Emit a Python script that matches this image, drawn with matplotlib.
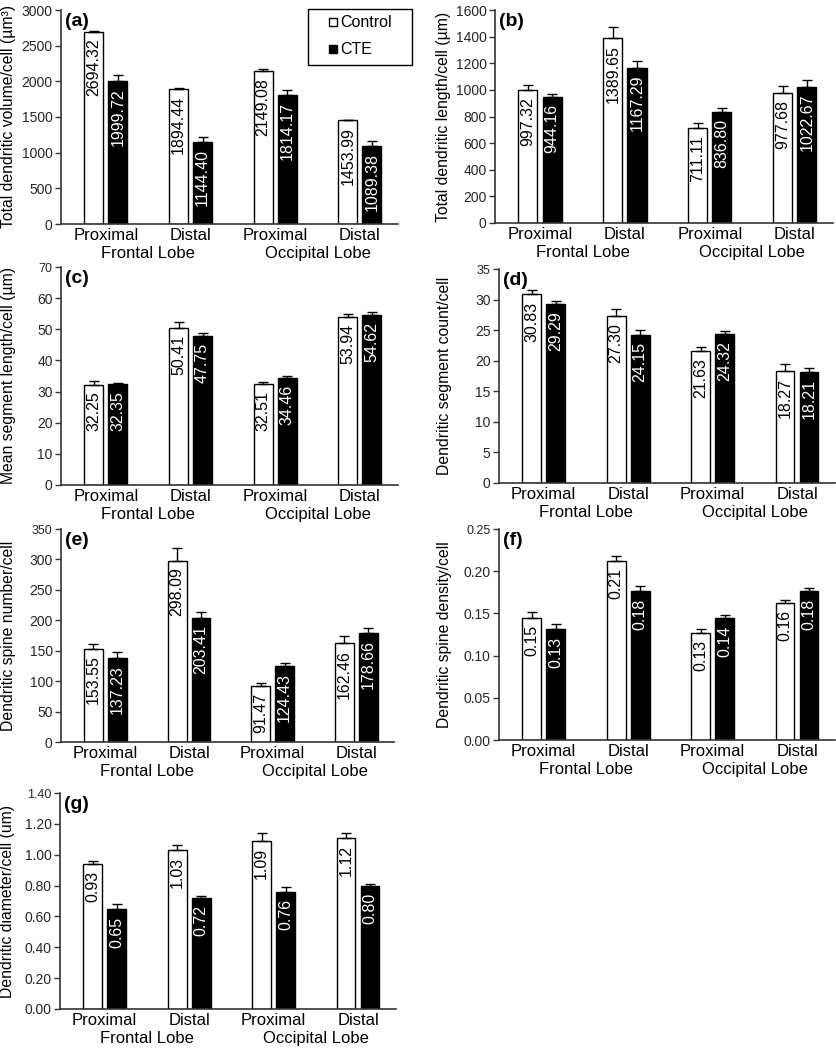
import matplotlib
matplotlib.use("Agg")
import matplotlib.pyplot as plt
from matplotlib.lines import Line2D
from matplotlib.patches import Rectangle
import numpy as np

plt.rcParams['font.family'] = ['Liberation Sans', 'DejaVu Sans']

W, H = 837, 1050

groups = ["Proximal", "Distal", "Proximal", "Distal"]
lobes = ["Frontal Lobe", "Occipital Lobe"]

# (a) total dendritic volume
vol_ctrl = [2694.32, 1894.44, 2149.08, 1453.99]
vol_cte = [1999.72, 1144.40, 1814.17, 1089.38]
vol_ctrl_err = [15, 10, 23, 10]
vol_cte_err = [93, 75, 70, 70]

# (b) total dendritic length
len_ctrl = [997.32, 1389.65, 711.11, 977.68]
len_cte = [944.16, 1167.29, 836.80, 1022.67]
len_ctrl_err = [38, 80, 38, 50]
len_cte_err = [22, 48, 25, 48]

# (c) mean segment length
seg_ctrl = [32.25, 50.41, 32.51, 53.94]
seg_cte = [32.35, 47.75, 34.46, 54.62]
seg_ctrl_err = [1.07, 1.8, 0.5, 1.07]
seg_cte_err = [0.5, 1.0, 0.5, 1.0]

# (d) segment count
cnt_ctrl = [30.83, 27.30, 21.63, 18.27]
cnt_cte = [29.29, 24.15, 24.32, 18.21]
cnt_ctrl_err = [0.76, 1.1, 0.55, 1.15]
cnt_cte_err = [0.55, 0.87, 0.5, 0.55]

# (e) spine number
spn_ctrl = [153.55, 298.09, 91.47, 162.46]
spn_cte = [137.23, 203.41, 124.43, 178.66]
spn_ctrl_err = [7.6, 20.7, 4.9, 10.9]
spn_cte_err = [10.3, 10.9, 4.9, 8.2]

# (f) spine density
den_ctrl = [0.145, 0.212, 0.127, 0.162]
den_cte = [0.131, 0.176, 0.144, 0.176]
den_ctrl_err = [0.0063, 0.0063, 0.004, 0.0036]
den_cte_err = [0.006, 0.006, 0.004, 0.0036]
den_ctrl_lab = ["0.15", "0.21", "0.13", "0.16"]
den_cte_lab = ["0.13", "0.18", "0.14", "0.18"]

# (g) diameter
dia_ctrl = [0.94, 1.03, 1.09, 1.11]
dia_cte = [0.645, 0.72, 0.76, 0.80]
dia_ctrl_err = [0.022, 0.035, 0.048, 0.033]
dia_cte_err = [0.035, 0.01, 0.033, 0.01]
dia_ctrl_lab = ["0.93", "1.03", "1.09", "1.12"]
dia_cte_lab = ["0.65", "0.72", "0.76", "0.80"]

fig = plt.figure(figsize=(W / 100, H / 100), dpi=100)

BW = 0.224
OFF = 0.142
AX_COL = '#333333'


def add_ax(l, t, r, b):
    return fig.add_axes([l / W, 1 - b / H, (r - l) / W, (b - t) / H])


def panel(box, tag, ylabel, ymax, ystep, ctrl, cte, ctrl_err, cte_err,
          fmt="{:.0f}", ctrl_lab=None, cte_lab=None, ylab_x=16, small_top=True):
    ax = add_ax(*box)
    x = np.arange(4)
    ax.bar(x - OFF, ctrl, BW, color='white', edgecolor='black', linewidth=1.0,
           yerr=[np.zeros(4), ctrl_err], capsize=3.5,
           error_kw=dict(elinewidth=1.0, capthick=1.0, ecolor='black'), zorder=2)
    ax.bar(x + OFF, cte, BW, color='black', edgecolor='black', linewidth=1.0,
           yerr=[np.zeros(4), cte_err], capsize=3.5,
           error_kw=dict(elinewidth=1.0, capthick=1.0, ecolor='black'), zorder=2)
    if ctrl_lab is None:
        ctrl_lab = ["{:.2f}".format(v) for v in ctrl]
    if cte_lab is None:
        cte_lab = ["{:.2f}".format(v) for v in cte]
    for i in range(4):
        ax.annotate(ctrl_lab[i], (x[i] - OFF, ctrl[i]), xytext=(0, -5),
                    textcoords='offset points', rotation=90, ha='center', va='top',
                    fontsize=11.5, color='black', zorder=3)
        ax.annotate(cte_lab[i], (x[i] + OFF, cte[i]), xytext=(0, -5),
                    textcoords='offset points', rotation=90, ha='center', va='top',
                    fontsize=11.5, color='white', zorder=3)
    ax.set_xlim(-0.53, 3.45)
    ax.set_ylim(0, ymax)
    ticks = np.arange(0, ymax + ystep / 2, ystep)
    ax.set_yticks(ticks)
    ax.set_yticklabels([fmt.format(t) for t in ticks], fontsize=10, color='#262626')
    if small_top:
        ax.get_yticklabels()[-1].set_fontsize(9)
    ax.set_xticks(x)
    ax.set_xticklabels(groups, fontsize=12)
    ax.tick_params(axis='x', length=0, pad=3)
    ax.tick_params(axis='y', length=4, width=1, color=AX_COL, pad=2)
    for s in ['top', 'right']:
        ax.spines[s].set_visible(False)
    for s in ['left', 'bottom']:
        ax.spines[s].set_color(AX_COL)
        ax.spines[s].set_linewidth(1.2)
    for j, lobe in enumerate(lobes):
        ax.annotate(lobe, (0.5 + 2 * j, 0), xycoords=('data', 'axes fraction'),
                    xytext=(0, -21.5), textcoords='offset points',
                    ha='center', va='center', fontsize=12)
    ax.text(0.012, 0.985, tag, transform=ax.transAxes, ha='left', va='top',
            fontsize=14, fontweight='bold')
    ax.set_ylabel(ylabel, fontsize=11.3)
    ax.yaxis.set_label_coords((ylab_x - box[0]) / (box[2] - box[0]), 0.5)
    return ax


panel((61, 10, 398, 224), "(a)", "Total dendritic volume/cell (µm³)", 3000, 500,
      vol_ctrl, vol_cte, vol_ctrl_err, vol_cte_err, small_top=False)
panel((495, 10, 833, 223), "(b)", "Total dendritic length/cell (µm)", 1600, 200,
      len_ctrl, len_cte, len_ctrl_err, len_cte_err, ylab_x=451, small_top=False)
panel((61, 267, 398, 485), "(c)", "Mean segment length/cell (µm)", 70, 10,
      seg_ctrl, seg_cte, seg_ctrl_err, seg_cte_err)
panel((499, 269, 835, 483), "(d)", "Dendritic segment count/cell", 35, 5,
      cnt_ctrl, cnt_cte, cnt_ctrl_err, cnt_cte_err, ylab_x=452)
panel((61, 529, 394, 742), "(e)", "Dendritic spine number/cell", 350, 50,
      spn_ctrl, spn_cte, spn_ctrl_err, spn_cte_err)
panel((499, 529, 835, 740), "(f)", "Dendritic spine density/cell", 0.25, 0.05,
      den_ctrl, den_cte, den_ctrl_err, den_cte_err, fmt="{:.2f}",
      ctrl_lab=den_ctrl_lab, cte_lab=den_cte_lab, ylab_x=452)
panel((60, 793, 396, 1009), "(g)", "Dendritic diameter/cell (um)", 1.40, 0.20,
      dia_ctrl, dia_cte, dia_ctrl_err, dia_cte_err, fmt="{:.2f}",
      ctrl_lab=dia_ctrl_lab, cte_lab=dia_cte_lab, ylab_x=15)

# legend: frame drawn separately so its padding matches the original box
fig.patches.append(Rectangle((308 / W, 1 - 65 / H), 104 / W, 56 / H,
                             transform=fig.transFigure, facecolor='white',
                             edgecolor='black', linewidth=1.0, zorder=5))
handles = [Line2D([], [], ls='none', marker='s', markersize=5.5, markerfacecolor='white',
                  markeredgecolor='black', markeredgewidth=1),
           Line2D([], [], ls='none', marker='s', markersize=5.5, markerfacecolor='black',
                  markeredgecolor='black')]
leg = fig.legend(handles, ["Control", "CTE"], loc='upper left',
                 bbox_to_anchor=(319 / W, 1 - 9 / H), fontsize=11.5,
                 frameon=False, borderpad=0.4, handlelength=0.9, handletextpad=0.05,
                 labelspacing=0.75, borderaxespad=0)
leg.set_zorder(6)

fig.savefig("out.png", dpi=100)
